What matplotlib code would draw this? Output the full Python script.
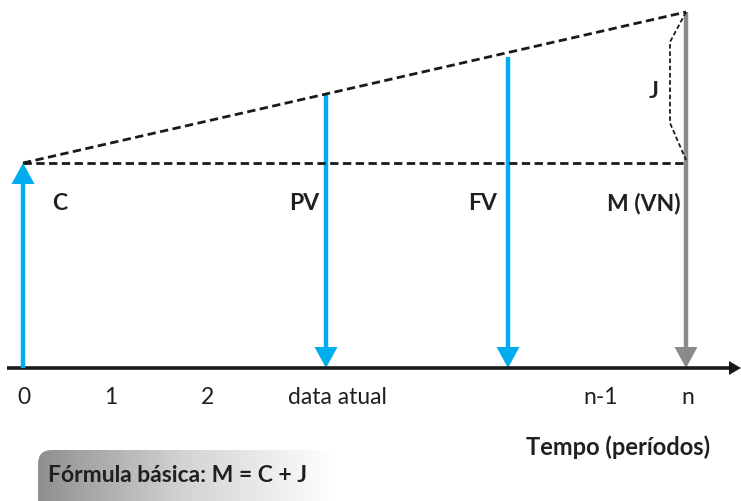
import matplotlib
matplotlib.use("Agg")
import matplotlib.pyplot as plt
import numpy as np
from matplotlib.patches import FancyBboxPatch
from matplotlib.colors import LinearSegmentedColormap

plt.rcParams['font.family'] = ['Lato', 'DejaVu Sans']

# time-axis tick labels and their x positions (px-like units)
tick_labels = ["0", "1", "2", "data atual", "n-1", "n"]
tick_x = [24, 111, 207, 337, 601, 688]

# cash-flow arrows: label, x position, height above time axis, direction, colour
flow_labels = ["C", "PV", "FV", "M (VN)"]
flow_x = [23, 326, 508, 686]
flow_height = [205, 273, 311, 356]
flow_dir = ["up", "down", "down", "down"]
flow_colors = ["#00aeef", "#00aeef", "#00aeef", "#8a8a8b"]
label_x = [60, 304, 483, 644]

fig = plt.figure(figsize=(7.41, 5.01), dpi=100)
ax = fig.add_axes([0, 0, 1, 1])
ax.set_xlim(0, 741)
ax.set_ylim(-133, 368)
ax.axis('off')

# time axis
ax.plot([7, 730], [0, 0], color='#1a1a1a', lw=2.6, solid_capstyle='butt')
ax.fill([729, 741, 729], [-7, 0, 7], color='#1a1a1a', lw=0)

# arrows
hw, hl = 23, 21
for x, h, d, c in zip(flow_x, flow_height, flow_dir, flow_colors):
    if d == "up":
        ax.plot([x, x], [0, h - hl + 1], color=c, lw=3.2, solid_capstyle='butt')
        ax.fill([x - hw / 2, x, x + hw / 2], [h - hl, h, h - hl], color=c, lw=0)
    else:
        ax.plot([x, x], [h, hl - 1], color=c, lw=3.2, solid_capstyle='butt')
        ax.fill([x - hw / 2, x, x + hw / 2], [hl, 0, hl], color=c, lw=0)

# dashed lines
c_h = flow_height[0]
m_h = flow_height[-1]
ax.plot([flow_x[0], flow_x[-1]], [c_h, c_h], ls=(0, (3, 1.6)), color='#1a1a1a', lw=2.0)
ax.plot([flow_x[0], flow_x[-1]], [c_h, m_h], ls=(0, (3, 1.6)), color='#1a1a1a', lw=2.0)
# J bracket
ax.plot([686, 670, 670, 686], [m_h, m_h - 30, c_h + 40, c_h + 3],
        ls=(0, (2.5, 1.5)), color='#1a1a1a', lw=1.3)

tc = '#231f20'
# labels
for lx, lab in zip(label_x, flow_labels):
    ax.text(lx, 368 - 203, lab, fontsize=16.5, fontweight='bold', color=tc,
            ha='center', va='center')
ax.text(654, 368 - 91, "J", fontsize=16.5, fontweight='bold', color=tc,
        ha='center', va='center')

for x, lab in zip(tick_x, tick_labels):
    ax.text(x, -30, lab, fontsize=16.5, color=tc, ha='center', va='center')

ax.text(618, -79, "Tempo (períodos)", fontsize=17, fontweight='bold',
        color=tc, ha='center', va='center')

# gradient box
box = FancyBboxPatch((38, -150), 295, 68, boxstyle="round,pad=0,rounding_size=14",
                     fc='none', ec='none')
ax.add_patch(box)
grad = np.linspace(0, 1, 256).reshape(1, -1)
cmap = LinearSegmentedColormap.from_list('g', ['#8f8f90', '#d4d4d5', '#ffffff'])
im = ax.imshow(grad, extent=[38, 333, -150, -82], cmap=cmap, aspect='auto', zorder=1)
im.set_clip_path(box)
ax.set_xlim(0, 741)
ax.set_ylim(-133, 368)
ax.text(177, -108, "Fórmula básica: M = C + J", fontsize=16.5, fontweight='bold',
        color=tc, ha='center', va='center', zorder=2)

fig.savefig("out.png", dpi=100)
